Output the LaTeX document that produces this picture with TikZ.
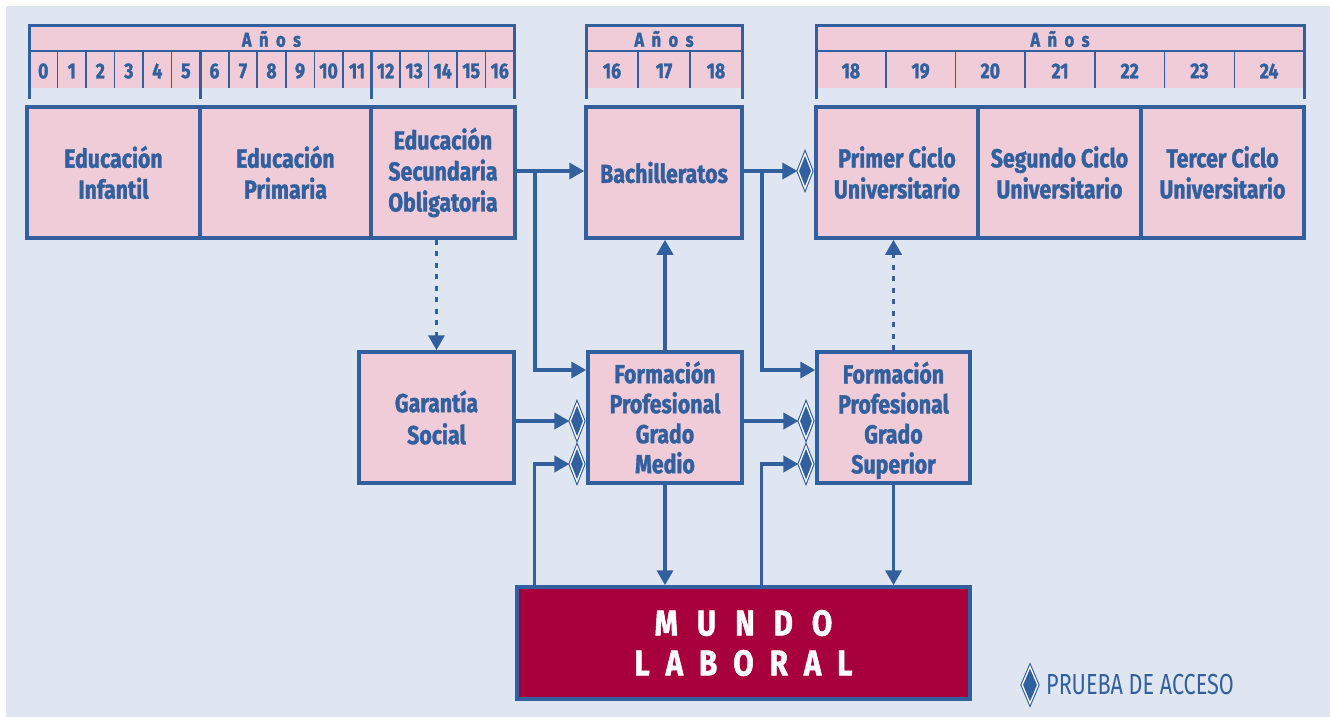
\documentclass[tikz,border=0pt]{standalone}
\usepackage{fontspec}
\setmainfont[FakeStretch=0.82,BoldFeatures={FakeBold=1.4}]{Fira Sans}
\newfontfamily\legfont[FakeStretch=0.745]{Fira Sans}
\usetikzlibrary{arrows.meta,shapes.geometric}
\definecolor{bg}{RGB}{224,230,241}
\definecolor{pk}{RGB}{239,204,216}
\definecolor{bl}{RGB}{50,96,158}
\definecolor{cr}{RGB}{168,0,58}
\tikzset{
  box/.style={draw=bl,fill=pk,line width=3.5pt,rectangle,inner sep=0pt,
    text=bl,font=\bfseries\fontsize{26}{31}\selectfont,align=center},
  num/.style={text=bl,font=\bfseries\fontsize{21.5}{24}\selectfont,inner sep=0pt},
  anos/.style={text=bl,font=\bfseries\fontsize{20}{22}\selectfont,inner sep=0pt},
  arr/.style={draw=bl,line width=3.5pt,-{Triangle[length=15pt,width=16pt]}},
  dots/.style={draw=bl,line width=3.5pt,dash pattern=on 5pt off 6.5pt,-{Triangle[length=15pt,width=16pt]}},
  prueba/.style={shape=diamond,draw=bl,fill=bl,line width=1.1pt,double=white,double distance=1.3pt,
    inner sep=0pt,minimum width=14pt,minimum height=35pt},
  outer/.style={draw=bl,line width=3pt},
  cell/.style={draw=bl,line width=1.6pt},
  major/.style={draw=bl,line width=2.6pt}
}
\begin{document}
\begin{tikzpicture}[x=1pt,y=-1pt]
\useasboundingbox (0,0) rectangle (1330,717);
\fill[bg] (6,6) rectangle (1330,717);
% timeline 1
\fill[pk] (29,26) rectangle (514,88);
\draw[cell] (29,51) -- (514,51);
\foreach \i in {1,...,16} \draw[cell] ({29+28.53*\i},51) -- ({29+28.53*\i},88);
\draw[major] (200.2,51) -- (200.2,99);
\draw[major] (371.4,51) -- (371.4,99);
\draw[outer] (29,99) -- (29,26) -- (514,26) -- (514,99);
\node[anos] (h1) at (271.5,39) {A\hspace{7.5pt}ñ\hspace{7.5pt}o\hspace{7.5pt}s};
\foreach \i in {0,...,16} \node[num] (a\i) at ({29+28.53*(\i+0.5)},71) {\i};
% timeline 2
\fill[pk] (586,26) rectangle (742,88);
\draw[cell] (586,51) -- (742,51);
\draw[cell] (638,51) -- (638,88);
\draw[cell] (690,51) -- (690,88);
\draw[outer] (586,99) -- (586,26) -- (742,26) -- (742,99);
\node[anos] (h2) at (664,39) {A\hspace{7.5pt}ñ\hspace{7.5pt}o\hspace{7.5pt}s};
\node[num] (b16) at (612,71) {16};
\node[num] (b17) at (664,71) {17};
\node[num] (b18) at (716,71) {18};
% timeline 3
\fill[pk] (816,26) rectangle (1304,88);
\draw[cell] (816,51) -- (1304,51);
\foreach \i in {1,...,6} \draw[cell] ({816+69.714*\i},51) -- ({816+69.714*\i},88);
\draw[outer] (816,99) -- (816,26) -- (1304,26) -- (1304,99);
\node[anos] (h3) at (1060,39) {A\hspace{7.5pt}ñ\hspace{7.5pt}o\hspace{7.5pt}s};
\foreach \y [count=\k from 0] in {18,...,24} \node[num] (c\y) at ({816+69.714*(\k+0.5)},71) {\y};
% boxes
\node[box,minimum width=173pt,minimum height=131pt] (inf) at (113.5,172.5) {Educación\\Infantil};
\node[box,minimum width=171pt,minimum height=131pt] (pri) at (285.5,172.5) {Educación\\Primaria};
\node[box,minimum width=144pt,minimum height=131pt] (eso) at (443,172.5) {Educación\\Secundaria\\Obligatoria};
\node[box,minimum width=156pt,minimum height=131pt] (bach) at (664,172.5) {Bachilleratos};
\node[box,minimum width=162pt,minimum height=131pt] (pc) at (897,172.5) {Primer Ciclo\\Universitario};
\node[box,minimum width=163pt,minimum height=131pt] (sc) at (1059.5,172.5) {Segundo Ciclo\\Universitario};
\node[box,minimum width=163pt,minimum height=131pt] (tc) at (1222.5,172.5) {Tercer Ciclo\\Universitario};
\node[box,minimum width=155pt,minimum height=131pt,font=\bfseries\fontsize{26}{32}\selectfont] (gar) at (436.5,417.5) {Garantía\\Social};
\node[box,minimum width=154pt,minimum height=131pt,font=\bfseries\fontsize{26}{30}\selectfont] (fpm) at (665,417.5) {Formación\\Profesional\\Grado\\Medio};
\node[box,minimum width=153pt,minimum height=131pt,text depth=0pt,font=\bfseries\fontsize{26}{30}\selectfont] (fps) at (893.5,417.5) {Formación\\Profesional\\Grado\\Superior};
\node[box,fill=cr,text=white,minimum width=453pt,minimum height=112pt,font=\bfseries\fontsize{36}{40}\selectfont] (mundo) at (743.5,643)
  {M\hspace{19pt}U\hspace{19pt}N\hspace{19pt}D\hspace{19pt}O\\L\hspace{16pt}A\hspace{16pt}B\hspace{16pt}O\hspace{16pt}R\hspace{16pt}A\hspace{16pt}L};
% diamonds
\node[prueba] (d1) at (805,171) {};
\node[prueba] (d2) at (577,421) {};
\node[prueba] (d3) at (577,464) {};
\node[prueba] (d4) at (806,421) {};
\node[prueba] (d5) at (806,464) {};
\node[prueba,minimum width=16pt,minimum height=37pt] (d6) at (1030,685) {};
\node[anchor=west,text=bl,inner sep=0pt,font=\legfont\fontsize{29}{32}\selectfont] (leg) at (1046,685) {PRUEBA DE ACCESO};
% connectors
\coordinate (j1) at (535,171);
\coordinate (j2) at (762,171);
\draw[arr] (eso.east |- j1) -- (bach.west |- j1);
\draw[arr] (j1) |- ([yshift=47.5pt]fpm.west);
\draw[arr] (bach.east |- d1) -- (d1.west);
\draw[arr] (j2) |- ([yshift=47.5pt]fps.west);
\draw[dots] (gar.north |- eso.south) -- (gar.north);
\draw[arr] (gar.east |- d2) -- (d2.west);
\draw[arr] ([xshift=19pt]mundo.north west) |- (d3.west);
\draw[arr] (fpm.north) -- (fpm.north |- bach.south);
\draw[arr] (fpm.south) -- (fpm.south |- mundo.north);
\draw[arr] (fpm.east |- d4) -- (d4.west);
\draw[arr] ([xshift=246pt]mundo.north west) |- (d5.west);
\draw[dots] (fps.north) -- (fps.north |- pc.south);
\draw[arr] (fps.south) -- (fps.south |- mundo.north);
\end{tikzpicture}
\end{document}
